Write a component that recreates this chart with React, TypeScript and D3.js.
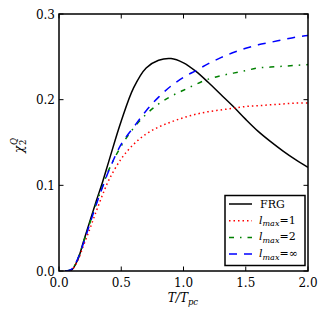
import React from "react";
import * as d3 from "d3";

// temperature grid, T / T_pc
const tValues = [0.05, 0.1, 0.15, 0.2, 0.25, 0.3, 0.35, 0.4, 0.5, 0.6, 0.7, 0.8, 0.9, 1.0, 1.1, 1.2, 1.3, 1.4, 1.5, 1.6, 1.7, 1.8, 1.9, 2.0];

const frg = [0, 0.001, 0.013, 0.036, 0.059, 0.082, 0.104, 0.128, 0.175, 0.214, 0.237, 0.246, 0.248, 0.243, 0.233, 0.220, 0.206, 0.192, 0.177, 0.163, 0.151, 0.140, 0.130, 0.121];
const lmax1 = [0, 0.001, 0.012, 0.031, 0.050, 0.070, 0.089, 0.106, 0.131, 0.148, 0.160, 0.168, 0.174, 0.179, 0.183, 0.186, 0.188, 0.190, 0.192, 0.193, 0.194, 0.195, 0.196, 0.196];
const lmax2 = [0, 0.002, 0.014, 0.035, 0.057, 0.079, 0.099, 0.118, 0.146, 0.167, 0.183, 0.195, 0.204, 0.211, 0.218, 0.224, 0.228, 0.231, 0.234, 0.237, 0.238, 0.239, 0.240, 0.241];
const lmaxInf = [0, 0.002, 0.014, 0.034, 0.056, 0.078, 0.098, 0.117, 0.148, 0.168, 0.187, 0.203, 0.216, 0.226, 0.234, 0.242, 0.249, 0.255, 0.260, 0.264, 0.267, 0.270, 0.273, 0.275];

const xTicks = [0, 0.5, 1.0, 1.5, 2.0];
const yTicks = [0, 0.1, 0.2, 0.3];

const series = [
  { name: "FRG", values: frg, color: "#000000", dash: "none", sub: "" },
  { name: "1", values: lmax1, color: "#ff0000", dash: "1.5,3", sub: "max" },
  { name: "2", values: lmax2, color: "#008000", dash: "5,6,1.5,6", sub: "max" },
  { name: "∞", values: lmaxInf, color: "#0000ff", dash: "8,7", sub: "max" },
];

const W = 327;
const H = 319;
const left = 59, right = 308, top = 14, bottom = 271;
const font = "DejaVu Serif";

function App() {
  const x = d3.scaleLinear().domain([0, 2]).range([left, right]);
  const y = d3.scaleLinear().domain([0, 0.3]).range([bottom, top]);
  const fmt = d3.format(".1f");

  const line = d3
    .line<number>()
    .x((d, i) => x(tValues[i]))
    .y((d) => y(d))
    .curve(d3.curveCatmullRom.alpha(0.5));

  const legX = 225, legY = 195.5;

  return (
    <svg width={W} height={H} style={{ position: "absolute", left: 0, top: 0, background: "#fff" }} fontFamily={font}>
      <defs>
        <clipPath id="plot">
          <rect x={left} y={top} width={right - left} height={bottom - top} />
        </clipPath>
      </defs>

      <g clipPath="url(#plot)">
        {series.map((s) => (
          <path key={s.name} d={line(s.values) || ""} fill="none" stroke={s.color} strokeWidth={1.5} strokeDasharray={s.dash} />
        ))}
      </g>

      {/* ticks, pointing inward on all four sides */}
      {xTicks.map((t) => (
        <g key={"x" + t}>
          <line x1={x(t)} x2={x(t)} y1={bottom} y2={bottom - 4.5} stroke="#000" />
          <line x1={x(t)} x2={x(t)} y1={top} y2={top + 4.5} stroke="#000" />
          <text x={x(t)} y={287} fontSize={12} textAnchor="middle">{fmt(t)}</text>
        </g>
      ))}
      {yTicks.map((t) => (
        <g key={"y" + t}>
          <line x1={left} x2={left + 4.5} y1={y(t)} y2={y(t)} stroke="#000" />
          <line x1={right} x2={right - 4.5} y1={y(t)} y2={y(t)} stroke="#000" />
          <text x={55} y={y(t) + 4.5} fontSize={12} textAnchor="end">{fmt(t)}</text>
        </g>
      ))}

      <rect x={left} y={top} width={right - left} height={bottom - top} fill="none" stroke="#000" strokeWidth={1.5} />

      {/* axis labels */}
      <text x={183} y={302} fontSize={12} textAnchor="middle" fontStyle="italic">
        T/T<tspan fontSize={8.5} dy={3}>pc</tspan>
      </text>
      <g transform="translate(23,153) rotate(-90)">
        <text x={0} y={0} fontSize={12} fontStyle="italic">χ</text>
        <text x={8} y={2.5} fontSize={8.5}>2</text>
        <text x={8} y={-6} fontSize={8.5} fontStyle="italic">Q</text>
      </g>

      {/* legend */}
      <rect x={legX} y={legY} width={80} height={70} fill="#fff" stroke="#000" strokeWidth={1.5} />
      {series.map((s, i) => {
        const ly = 204 + i * 16.7;
        return (
          <g key={"leg" + s.name}>
            <line x1={229} x2={252} y1={ly} y2={ly} stroke={s.color} strokeWidth={1.5} strokeDasharray={s.dash} />
            {s.sub === "" ? (
              <text x={260} y={ly + 4} fontSize={11}>{s.name}</text>
            ) : (
              <text x={259} y={ly + 3} fontSize={11}>
                <tspan fontStyle="italic">l</tspan>
                <tspan fontSize={8} fontStyle="italic" dy={2.5}>max</tspan>
                <tspan dy={-2.5}>={s.name}</tspan>
              </text>
            )}
          </g>
        );
      })}
    </svg>
  );
}

export default App;
